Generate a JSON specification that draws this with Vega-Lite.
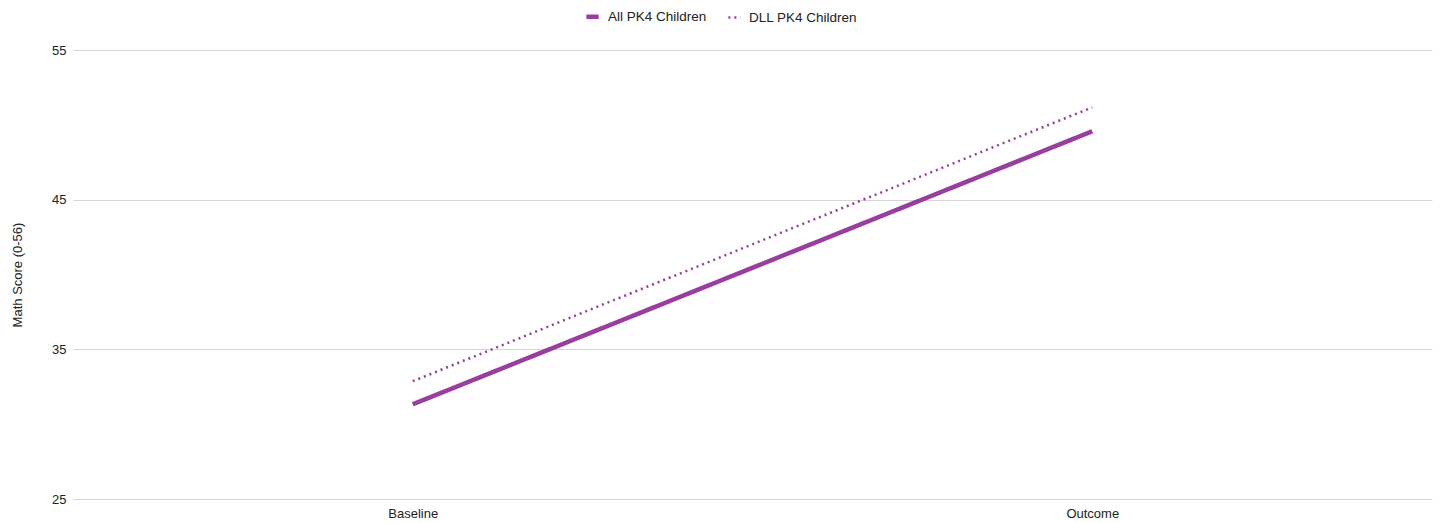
{
  "$schema": "https://vega.github.io/schema/vega-lite/v6.json",
  "autosize": "none",
  "width": 1359,
  "height": 449,
  "padding": {"left": 73, "top": 50, "right": 10, "bottom": 24},
  "background": "white",
  "data": {
    "values": [
      {"stage": "Baseline", "series": "All PK4 Children", "score": 31.33},
      {"stage": "Outcome", "series": "All PK4 Children", "score": 49.57},
      {"stage": "Baseline", "series": "DLL PK4 Children", "score": 32.87},
      {"stage": "Outcome", "series": "DLL PK4 Children", "score": 51.17}
    ]
  },
  "config": {
    "font": "Liberation Sans",
    "view": {"stroke": null},
    "axis": {"labelFont": "Liberation Sans", "titleFont": "Liberation Sans", "labelColor": "#222222", "titleColor": "#222222"},
    "legend": {"labelFont": "Liberation Sans"}
  },
  "mark": {"type": "line", "strokeCap": "butt"},
  "encoding": {
    "x": {
      "field": "stage",
      "type": "ordinal",
      "scale": {"type": "point", "padding": 0.5},
      "axis": {"title": null, "labelAngle": 0, "domain": false, "ticks": false, "labelPadding": 8, "labelFontSize": 13, "grid": false}
    },
    "y": {
      "field": "score",
      "type": "quantitative",
      "scale": {"domain": [25, 55], "nice": false, "zero": false},
      "axis": {
        "title": "Math Score (0-56)",
        "titleFontSize": 13,
        "titleFontWeight": "normal",
        "titlePadding": 27,
        "values": [25, 35, 45, 55],
        "labelFontSize": 13,
        "labelPadding": 7,
        "domain": false,
        "ticks": false,
        "gridColor": "#d6d6d6",
        "gridWidth": 1
      }
    },
    "color": {
      "field": "series",
      "type": "nominal",
      "scale": {"range": ["#993d9e", "#993d9e"]},
      "legend": {
        "title": null,
        "orient": "none",
        "direction": "horizontal",
        "legendX": 511,
        "legendY": -42,
        "symbolType": "stroke",
        "symbolSize": 150,
        "labelFontSize": 13.5,
        "labelColor": "#222222",
        "columnPadding": 16,
        "labelOffset": 7
      }
    },
    "strokeDash": {
      "field": "series",
      "type": "nominal",
      "scale": {"range": [[1, 0], [2, 4]]},
      "legend": null
    },
    "strokeWidth": {
      "field": "series",
      "type": "nominal",
      "scale": {"range": [4.5, 2.5]},
      "legend": null
    }
  }
}
